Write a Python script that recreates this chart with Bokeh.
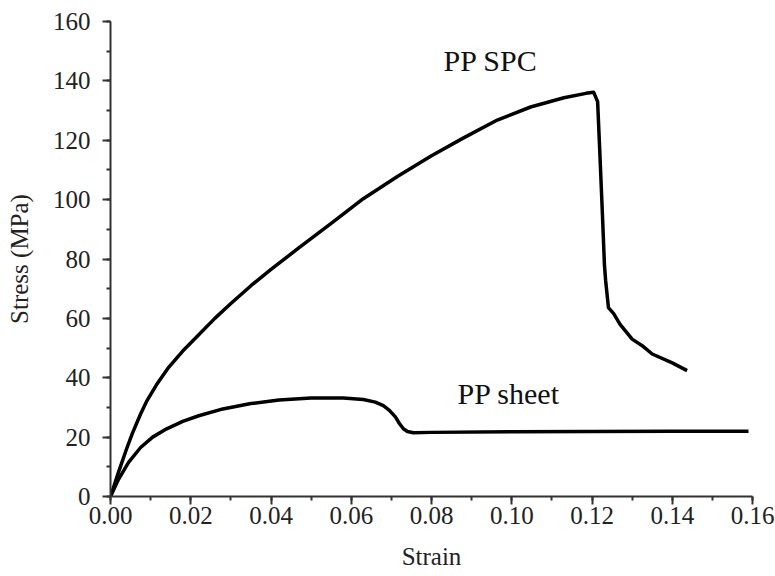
from bokeh.plotting import figure
from bokeh.models import Range1d, SingleIntervalTicker, NumeralTickFormatter, Label
from bokeh.embed import file_html
from bokeh.resources import INLINE

# PP SPC curve (strain, stress MPa)
spc_strain = [0, 0.002, 0.004, 0.0054, 0.0075, 0.0091, 0.0115, 0.0145, 0.018, 0.022,
              0.026, 0.030, 0.035, 0.040, 0.047, 0.055, 0.063, 0.0715, 0.080, 0.088,
              0.0964, 0.1047, 0.113, 0.1185, 0.1204, 0.1214, 0.1219, 0.1226, 0.1231,
              0.1234, 0.1241, 0.1254, 0.127, 0.130, 0.1328, 0.135, 0.140, 0.1437]
spc_stress = [0, 8.2, 16, 21.1, 27.8, 32.3, 37.7, 43.5, 49, 54.5,
              60, 65, 71, 76.5, 83.8, 92, 100.3, 107.8, 114.8, 120.8,
              126.8, 131.2, 134.3, 135.8, 136.2, 133, 117.5, 95, 78,
              72.7, 63.6, 61.6, 58, 53, 50.5, 48, 45, 42.4]

# PP sheet curve
sheet_strain = [0, 0.002, 0.0045, 0.0075, 0.0105, 0.014, 0.018, 0.022, 0.028, 0.035,
                0.042, 0.050, 0.058, 0.063, 0.066, 0.068, 0.0695, 0.071, 0.072, 0.073,
                0.074, 0.0755, 0.080, 0.100, 0.120, 0.140, 0.159]
sheet_stress = [0, 5.8, 11.5, 16.5, 20, 22.8, 25.3, 27.2, 29.5, 31.3,
                32.5, 33.2, 33.2, 32.7, 31.8, 30.6, 29, 26.8, 24.6, 22.8,
                21.9, 21.5, 21.6, 21.8, 21.9, 22, 22]

labels = ["PP SPC", "PP sheet"]
label_x = [0.083, 0.0865]
label_y = [146.8, 34.7]

FONT = "Liberation Serif"

p = figure(width=775, height=576, output_backend="svg", toolbar_location=None,
           x_range=Range1d(0, 0.16), y_range=Range1d(0, 160),
           min_border_left=110, min_border_right=23, min_border_top=21, min_border_bottom=80)
p.outline_line_color = None
p.xgrid.visible = False
p.ygrid.visible = False
p.background_fill_color = "white"
p.border_fill_color = "white"

p.line(spc_strain, spc_stress, line_color="black", line_width=3.5, line_join="round")
p.line(sheet_strain, sheet_stress, line_color="black", line_width=3.5, line_join="round")

for t, x, y in zip(labels, label_x, label_y):
    p.add_layout(Label(x=x, y=y, text=t, text_font=FONT, text_font_size="30px",
                       text_color="#111111", text_align="left", text_baseline="middle"))

p.xaxis.ticker = SingleIntervalTicker(interval=0.02, num_minor_ticks=2)
p.yaxis.ticker = SingleIntervalTicker(interval=20, num_minor_ticks=2)
p.xaxis.formatter = NumeralTickFormatter(format="0.00")
p.xaxis.axis_label = "Strain"
p.yaxis.axis_label = "Stress (MPa)"

for ax in (p.xaxis[0], p.yaxis[0]):
    ax.axis_line_color = "#333333"
    ax.axis_line_width = 2
    ax.major_tick_line_color = "#333333"
    ax.major_tick_line_width = 2
    ax.minor_tick_line_color = "#333333"
    ax.minor_tick_line_width = 2
    ax.major_tick_in = 0
    ax.major_tick_out = 8
    ax.minor_tick_in = 0
    ax.minor_tick_out = 4
    ax.major_label_text_font = FONT
    ax.major_label_text_font_size = "25px"
    ax.major_label_text_color = "#222222"
    ax.axis_label_text_font = FONT
    ax.axis_label_text_font_size = "25px"
    ax.axis_label_text_font_style = "normal"
    ax.axis_label_text_color = "#222222"

p.yaxis.major_label_standoff = 12
p.yaxis.axis_label_standoff = 17
p.xaxis.major_label_standoff = 2
p.xaxis.axis_label_standoff = 16

open("out.html", "w").write(file_html(p, INLINE))
